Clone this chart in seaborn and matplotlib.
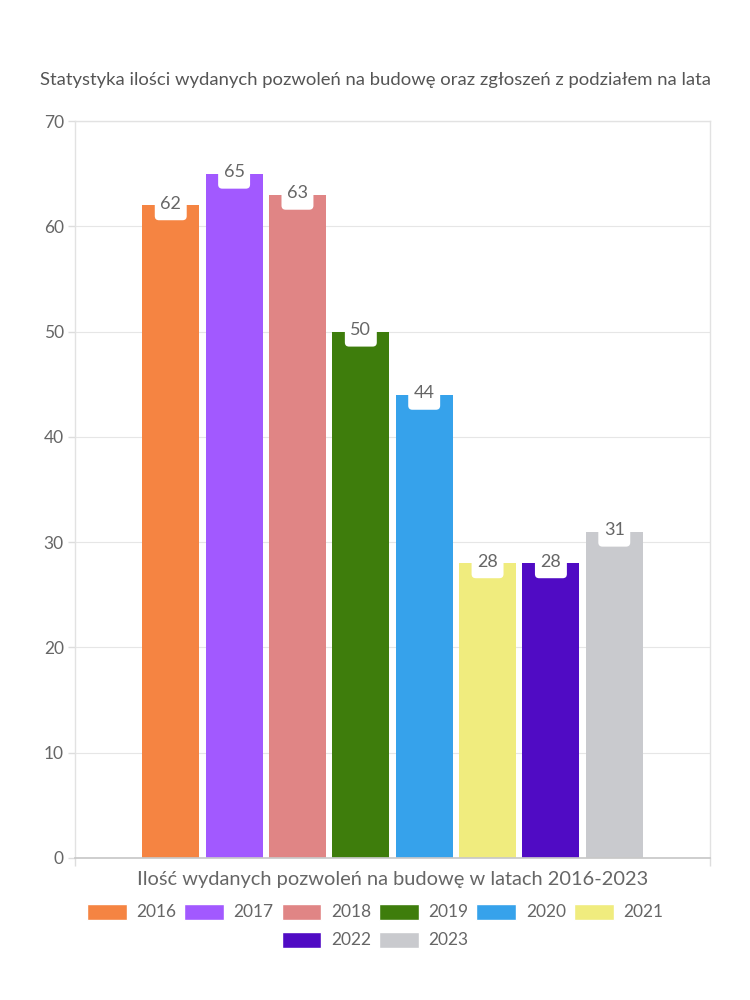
import matplotlib
matplotlib.use("Agg")
import matplotlib.pyplot as plt
import seaborn as sns
import pandas as pd
from matplotlib.patches import Patch, FancyBboxPatch
from matplotlib.offsetbox import DrawingArea, AnnotationBbox

years = ["2016", "2017", "2018", "2019", "2020", "2021", "2022", "2023"]
values = [62, 65, 63, 50, 44, 28, 28, 31]
colors = ["#F58442", "#A259FF", "#E08585", "#3E7D0C", "#36A2EB", "#F0EC7E", "#500BC4", "#C9CACE"]
title = "Statystyka ilości wydanych pozwoleń na budowę oraz zgłoszeń z podziałem na lata"
xlabel = "Ilość wydanych pozwoleń na budowę w latach 2016-2023"
yticks = [0, 10, 20, 30, 40, 50, 60, 70]

sns.set_theme(style="white")
plt.rcParams["font.family"] = ["Lato", "DejaVu Sans"]
TXT = "#666666"

df = pd.DataFrame({"grp": [""] * len(years), "year": years, "value": values})

fig = plt.figure(figsize=(7.5, 10), dpi=100)
ax = fig.add_axes([0.1, 0.142, 0.8467, 0.737])
sns.barplot(data=df, x="grp", y="value", hue="year", hue_order=years,
            palette=colors, gap=0.1, width=0.811, legend=False, ax=ax,
            saturation=1, edgecolor="none")

ax.set_xlim(-0.508, 0.508)
ax.set_ylim(0, 70)
ax.set_yticks(yticks)
ax.set_yticklabels([str(t) for t in yticks], fontsize=12.5, color=TXT)
ax.set_xticks([-0.508, 0.508])
ax.set_xticklabels(["", ""])
ax.tick_params(axis="y", length=5, color="#dddddd", width=1, pad=3, left=True)
ax.tick_params(axis="x", length=6, color="#dddddd", width=1, bottom=True)
ax.grid(axis="y", color="#e6e6e6", linewidth=0.8)
ax.set_axisbelow(True)
for s in ["left", "top", "right"]:
    ax.spines[s].set_color("#e2e2e2")
    ax.spines[s].set_linewidth(1)
ax.spines["bottom"].set_color("#c8c8c8")
ax.set_ylabel("")
ax.set_xlabel(xlabel, fontsize=14.4, color=TXT, va="center")
ax.xaxis.set_label_coords(0.5, (0.12 - 0.142) / 0.737)

# value labels: white rounded tag straddling the top of each bar
BW, BH = 23.0, 23.0  # points
for p in list(ax.patches):
    h = p.get_height()
    if h <= 0:
        continue
    cx = p.get_x() + p.get_width() / 2
    da = DrawingArea(BW, BH, 0, 0)
    da.add_artist(FancyBboxPatch((0, 0), BW, BH,
                                 boxstyle="round,pad=0,rounding_size=3",
                                 fc="white", ec="none"))
    ab = AnnotationBbox(da, (cx, h), box_alignment=(0.5, 0.47), frameon=False,
                        pad=0, zorder=4)
    ax.add_artist(ab)
    ax.annotate(f"{int(round(h))}", (cx, h), xytext=(0, 1), textcoords="offset points",
                ha="center", va="center", fontsize=13, color=TXT, zorder=5)

fig.text(0.5, 0.92, title, ha="center", va="center", fontsize=13.3, color="#555555")

h1 = [Patch(facecolor=c, label=y) for c, y in zip(colors[:6], years[:6])]
h2 = [Patch(facecolor=c, label=y) for c, y in zip(colors[6:], years[6:])]
kw = dict(frameon=False, fontsize=12.5, handlelength=2.3, handleheight=1.05,
          handletextpad=0.55, columnspacing=0.45, labelcolor=TXT)
fig.legend(handles=h1, ncol=6, loc="center", bbox_to_anchor=(0.5, 0.088), **kw)
fig.legend(handles=h2, ncol=2, loc="center", bbox_to_anchor=(0.5, 0.060), **kw)

fig.savefig("out.png", dpi=100, facecolor="white")
